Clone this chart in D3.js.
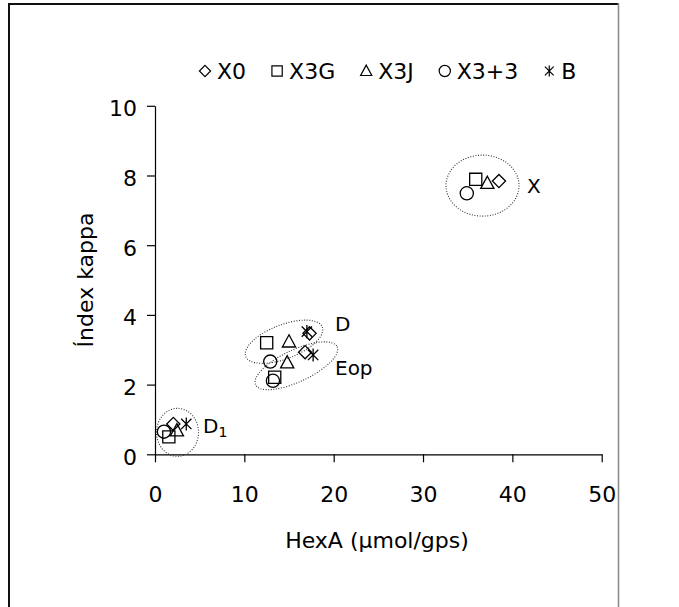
<!DOCTYPE html>
<html>
<head>
<meta charset="utf-8">
<script src="https://cdn.jsdelivr.net/npm/d3@7/dist/d3.min.js"></script>
<style>
  html, body { margin: 0; padding: 0; background: #fff; }
  svg { display: block; font-family: "DejaVu Sans", Verdana, sans-serif; }
</style>
</head>
<body>
<svg id="chart" width="679" height="607"></svg>
<script>
// Series (bleaching sequences) and their markers
const seriesNames = ["X0", "X3G", "X3J", "X3+3", "B"];
const seriesMarkers = ["diamond", "square", "triangle", "circle", "star"];

// Bleaching stages, one point per stage for each series
const stages = ["X", "D", "Eop", "D1"];

// HexA (µmol/g pulp) per stage, one array per series (null = not measured)
const hexaX0   = [38.5, 17.3, 16.8, 2.05];
const hexaX3G  = [35.9, 12.5, 13.4, 1.55];
const hexaX3J  = [37.2, 15.0, 14.8, 2.45];
const hexaX33  = [34.9, 12.9, 13.2, 1.0];
const hexaB    = [null, 17.0, 17.7, 3.5];

// Kappa number per stage
const kappaX0  = [7.84, 3.47, 2.93, 0.87];
const kappaX3G = [7.89, 3.20, 2.21, 0.50];
const kappaX3J = [7.78, 3.23, 2.63, 0.68];
const kappaX33 = [7.49, 2.66, 2.11, 0.65];
const kappaB   = [null, 3.52, 2.85, 0.87];

const xTicks = [0, 10, 20, 30, 40, 50];
const yTicks = [0, 2, 4, 6, 8, 10];

const hexaBySeries = [hexaX0, hexaX3G, hexaX3J, hexaX33, hexaB];
const kappaBySeries = [kappaX0, kappaX3G, kappaX3J, kappaX33, kappaB];

const points = [];
seriesNames.forEach((name, si) => {
  stages.forEach((st, ti) => {
    const hx = hexaBySeries[si][ti], kp = kappaBySeries[si][ti];
    if (hx != null && kp != null) points.push({ series: name, marker: seriesMarkers[si], stage: st, x: hx, y: kp });
  });
});

const svg = d3.select("#chart");

// Outer chart frame
svg.append("line").attr("x1", 9).attr("y1", 4).attr("x2", 618).attr("y2", 4)
  .attr("stroke", "#111").attr("stroke-width", 2);
svg.append("line").attr("x1", 9).attr("y1", 3).attr("x2", 9).attr("y2", 610)
  .attr("stroke", "#111").attr("stroke-width", 2);
svg.append("line").attr("x1", 618.5).attr("y1", 3).attr("x2", 618.5).attr("y2", 610)
  .attr("stroke", "#888").attr("stroke-width", 1.5);

const x = d3.scaleLinear().domain([0, 50]).range([155, 601.7]);
const y = d3.scaleLinear().domain([0, 10]).range([454.3, 105.8]);

// Axes
const xAxis = svg.append("g").attr("transform", `translate(0,${y(0)})`)
  .call(d3.axisBottom(x).tickValues(xTicks).tickSize(8).tickSizeOuter(0).tickPadding(24));
const yAxis = svg.append("g").attr("transform", `translate(${x(0)},0)`)
  .call(d3.axisLeft(y).tickValues(yTicks).tickSize(8).tickSizeOuter(0).tickPadding(10));
[xAxis, yAxis].forEach(g => {
  g.select(".domain").attr("stroke", "#000").attr("stroke-width", 1.2);
  g.selectAll(".tick line").attr("stroke", "#000").attr("stroke-width", 1.2);
  g.selectAll(".tick text").attr("fill", "#000").style("font-size", "22px")
    .style("font-family", '"DejaVu Sans", Verdana, sans-serif');
});
yAxis.selectAll(".tick text").attr("dy", "0.45em");

// Axis titles
svg.append("text").attr("x", 377).attr("y", 548).attr("text-anchor", "middle")
  .style("font-size", "22px").text("HexA (\u03BCmol/gps)");
svg.append("text").attr("transform", `translate(93,${280}) rotate(-90)`).attr("text-anchor", "middle")
  .style("font-size", "22px").text("Índex kappa");

// Marker shapes
function markerPath(type, s) {
  switch (type) {
    case "diamond": return `M0,${-s}L${s},0L0,${s}L${-s},0Z`;
    case "square": { const h = s * 0.92; return `M${-h},${-h}H${h}V${h}H${-h}Z`; }
    case "triangle": return `M0,${-s * 1.05}L${s},${s * 0.8}L${-s},${s * 0.8}Z`;
    case "circle": return `M${s},0A${s},${s} 0 1,1 ${-s},0A${s},${s} 0 1,1 ${s},0Z`;
    case "star": { const d = s * 0.78; return `M0,${-s}V${s}M${-d},${-d}L${d},${d}M${d},${-d}L${-d},${d}`; }
  }
}

// Dotted ellipses grouping the stages
const groups = [
  { stage: "X",   cx: 36.66, cy: 7.71, rx: 36.5, ry: 30.5, rot: 0 },
  { stage: "D",   cx: 14.44, cy: 3.23, rx: 41,   ry: 17,   rot: -21 },
  { stage: "Eop", cx: 15.82, cy: 2.54, rx: 45,   ry: 16,   rot: -25 },
  { stage: "D1",  cx: 2.52,  cy: 0.63, rx: 21,   ry: 24,   rot: 0 }
];
svg.append("g").selectAll("ellipse").data(groups).join("ellipse")
  .attr("transform", d => `translate(${x(d.cx)},${y(d.cy)}) rotate(${d.rot})`)
  .attr("rx", d => d.rx).attr("ry", d => d.ry)
  .attr("fill", "none").attr("stroke", "#333").attr("stroke-width", 1.1)
  .attr("stroke-dasharray", "1,1.6");

// Data points
svg.append("g").selectAll("path").data(points).join("path")
  .attr("transform", d => `translate(${x(d.x)},${y(d.y)})`)
  .attr("d", d => markerPath(d.marker, 6.6))
  .attr("fill", "none").attr("stroke", "#000").attr("stroke-width", 1.3);

// Stage labels
const labelG = svg.append("g").style("font-size", "20px");
labelG.append("text").attr("x", 527).attr("y", 193).text("X");
labelG.append("text").attr("x", 335).attr("y", 331).text("D");
labelG.append("text").attr("x", 335).attr("y", 375).text("Eop");
const d1 = labelG.append("text").attr("x", 203).attr("y", 433);
d1.append("tspan").text("D");
d1.append("tspan").attr("dy", 4).style("font-size", "14px").text("1");

// Legend: marker, label, then the next entry
const legend = svg.append("g").attr("transform", "translate(205,71)");
let lx = 0;
legend.selectAll("g.item").data(seriesNames).join("g").attr("class", "item")
  .each(function (name, i) {
    const g = d3.select(this).attr("transform", `translate(${lx},0)`);
    g.append("path").attr("d", markerPath(seriesMarkers[i], 5.6))
      .attr("fill", "none").attr("stroke", "#000").attr("stroke-width", 1.2);
    const t = g.append("text").attr("x", 12).attr("y", 8).style("font-size", "22px").text(name);
    lx += 12 + t.node().getComputedTextLength() + 31;
  });
</script>
</body>
</html>
